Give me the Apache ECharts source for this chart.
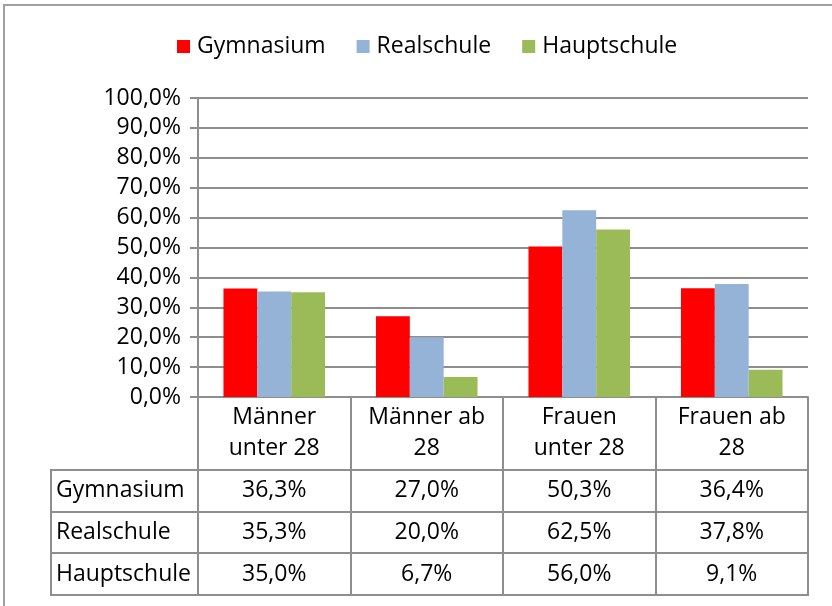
<!DOCTYPE html>
<html><head><meta charset="utf-8">
<script src="https://cdn.jsdelivr.net/npm/echarts@6/dist/echarts.min.js"></script>
<style>html,body{margin:0;padding:0;background:#fff}#c{width:832px;height:606px}</style>
</head><body><div id="c"></div>
<script>
// ---- data ----
const categories = ['Männer\nunter 28', 'Männer ab\n28', 'Frauen\nunter 28', 'Frauen ab\n28'];
const seriesNames = ['Gymnasium', 'Realschule', 'Hauptschule'];
const gymnasium = [36.3, 27.0, 50.3, 36.4];
const realschule = [35.3, 20.0, 62.5, 37.8];
const hauptschule = [35.0, 6.7, 56.0, 9.1];
const yMin = 0, yMax = 100, yStep = 10;

// ---- style ----
const FONT = 'Open Sans';
const FS = 23;
const colors = ['#FF0000', '#95B3D7', '#9BBB59'];
const lineCol = '#8e8e8e';
const fmt = v => v.toFixed(1).replace('.', ',') + '%';
const seriesData = [gymnasium, realschule, hauptschule];

const chart = echarts.init(document.getElementById('c'), null, {renderer: 'canvas'});
const option = {
  backgroundColor: '#fff',
  animation: false,
  color: colors,
  textStyle: {fontFamily: FONT, color: '#000'},
  legend: {
    top: 30, left: 172,
    itemWidth: 13, itemHeight: 13, itemGap: 31,
    icon: 'rect',
    textStyle: {fontFamily: FONT, fontSize: FS, color: '#000', padding: [0, 0, 0, 2]},
    data: seriesNames
  },
  grid: {left: 198, right: 24, top: 98, bottom: 209, containLabel: false},
  xAxis: {
    type: 'category', data: categories,
    axisLine: {show: true, lineStyle: {color: lineCol, width: 2}},
    axisTick: {show: true, interval: 0, length: 198, lineStyle: {color: lineCol, width: 2}},
    axisLabel: {interval: 0, margin: 5, fontFamily: FONT, fontSize: FS, color: '#000', lineHeight: 31, align: 'center'},
    splitLine: {show: false}
  },
  yAxis: {
    type: 'value', min: yMin, max: yMax, interval: yStep,
    axisLine: {show: true, lineStyle: {color: lineCol, width: 2}},
    axisTick: {show: true, length: 8, lineStyle: {color: lineCol, width: 2}},
    axisLabel: {margin: 17, fontFamily: FONT, fontSize: FS, color: '#000', formatter: v => fmt(v)},
    splitLine: {show: true, lineStyle: {color: lineCol, width: 2}}
  },
  series: seriesNames.map((n, i) => ({
    name: n, type: 'bar', data: seriesData[i],
    barGap: '0%', barCategoryGap: '33.4%',
    itemStyle: {color: colors[i]}
  }))
};
chart.setOption(option);

// ---- data table (drawn below the axis) ----
const centers = categories.map((c, i) => chart.convertToPixel({xAxisIndex: 0}, i));
const band = centers[1] - centers[0];
const plotR = centers[centers.length - 1] + band / 2;
const y0 = chart.convertToPixel({yAxisIndex: 0}, yMin);
const HEADER_H = 73, ROW_H = 41.7, TABLE_L = 51;
const g = [];
const lineStyle = {stroke: lineCol, lineWidth: 2};
// outer frame (top and left)
g.push({type: 'line', shape: {x1: 3, y1: 5, x2: 832, y2: 5}, style: {stroke: '#a0a0a0', lineWidth: 2}, silent: true});
g.push({type: 'line', shape: {x1: 4, y1: 5, x2: 4, y2: 606}, style: {stroke: '#a0a0a0', lineWidth: 2}, silent: true});
for (let r = 0; r <= seriesNames.length; r++) {
  const y = Math.round(y0 + HEADER_H + r * ROW_H);
  g.push({type: 'line', shape: {x1: TABLE_L, y1: y, x2: plotR + 1, y2: y}, style: lineStyle, silent: true});
}
g.push({type: 'line', shape: {x1: TABLE_L, y1: Math.round(y0 + HEADER_H) - 1, x2: TABLE_L, y2: Math.round(y0 + HEADER_H + seriesNames.length * ROW_H) + 1}, style: lineStyle, silent: true});
seriesNames.forEach((n, r) => {
  const yc = y0 + HEADER_H + (r + 0.5) * ROW_H;
  g.push({type: 'text', x: TABLE_L + 5, y: yc, style: {text: n, font: FS + 'px "' + FONT + '"', fill: '#000', verticalAlign: 'middle', align: 'left'}, silent: true});
  seriesData[r].forEach((v, c) => {
    g.push({type: 'text', x: centers[c], y: yc, style: {text: fmt(v), font: FS + 'px "' + FONT + '"', fill: '#000', verticalAlign: 'middle', align: 'center'}, silent: true});
  });
});
chart.setOption({graphic: {elements: g}});
</script>
</body></html>
